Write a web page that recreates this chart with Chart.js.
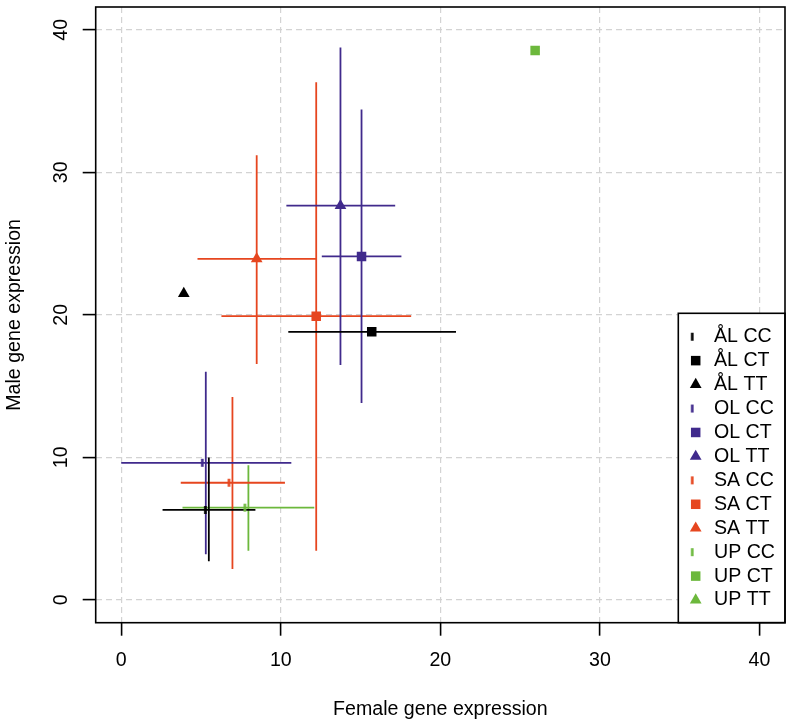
<!DOCTYPE html>
<html>
<head>
<meta charset="utf-8">
<script src="https://cdn.jsdelivr.net/npm/chart.js@4.4.0/dist/chart.umd.min.js"></script>
<style>
  html, body { margin: 0; padding: 0; background: #fff; }
  #wrap { width: 792px; height: 724px; }
</style>
</head>
<body>
<div id="wrap"><canvas id="c" width="792" height="724"></canvas></div>
<script>
const populations = ['ÅL', 'OL', 'SA', 'UP'];
const genotypes = ['CC', 'CT', 'TT'];
const popColors = ['#000000', '#402a8c', '#e6461f', '#6cb83c'];
const tickValues = [0, 10, 20, 30, 40];

// rows = population, columns = CC, CT, TT (null = not drawn)
const femaleMean = [[5.49, 15.70, 3.92], [5.30, 15.06, 13.74], [6.97, 12.22, 8.49], [7.97, 25.94, null]];
const maleMean   = [[6.31, 18.81, 21.49], [9.62, 24.10, 27.66], [8.22, 19.91, 23.93], [6.47, 38.55, null]];
const femaleLow  = [[2.59, 10.47, null], [0.00, 12.57, 10.35], [3.73, 6.28, 4.78], [3.84, null, null]];
const femaleHigh = [[8.41, 20.98, null], [10.66, 17.56, 17.17], [10.26, 18.17, 12.22], [12.10, null, null]];
const maleLow    = [[2.72, null, null], [3.21, 13.81, 16.48], [2.17, 3.44, 16.55], [3.44, null, null]];
const maleHigh   = [[9.99, null, null], [16.01, 34.41, 38.76], [14.23, 36.32, 31.20], [9.45, null, null]];

const FAMILY = '"Liberation Sans", Arial, Helvetica, sans-serif';
const FSIZE = 19.6;

// "|" glyph, sits a bit left of the point like R's pch="|"
function tickGlyph(color) {
  const c = document.createElement('canvas');
  c.width = 14; c.height = 14;
  const g = c.getContext('2d');
  g.fillStyle = color;
  g.fillRect(2.2, 3, 2.6, 8);
  return c;
}

function drawSymbol(ctx, j, color, x, y) {
  ctx.fillStyle = color;
  if (j === 0) {
    ctx.drawImage(tickGlyph(color), x - 7, y - 7);
  } else if (j === 1) {
    ctx.fillRect(x - 4.75, y - 4.75, 9.5, 9.5);
  } else {
    const r = 6.75;
    ctx.beginPath();
    ctx.moveTo(x, y - r);
    ctx.lineTo(x + r * 0.866, y + r / 2);
    ctx.lineTo(x - r * 0.866, y + r / 2);
    ctx.closePath();
    ctx.fill();
  }
}

const markerSets = [];
populations.forEach((p, i) => genotypes.forEach((gt, j) => {
  if (femaleMean[i][j] == null) return;
  markerSets.push({
    label: p + ' ' + gt,
    data: [{ x: femaleMean[i][j], y: maleMean[i][j] }],
    pointStyle: j === 0 ? tickGlyph(popColors[i]) : (j === 1 ? 'rect' : 'triangle'),
    pointRadius: j === 0 ? 7 : (j === 1 ? 6.72 : 6.75),
    pointBackgroundColor: popColors[i],
    pointBorderColor: popColors[i],
    pointBorderWidth: 0,
    showLine: false,
    order: 0
  });
}));

const barSets = populations.map((p, i) => {
  const pts = [];
  genotypes.forEach((gt, j) => {
    if (femaleLow[i][j] != null) {
      pts.push({ x: femaleLow[i][j], y: maleMean[i][j] }, { x: femaleHigh[i][j], y: maleMean[i][j] }, { x: null, y: null });
    }
    if (maleLow[i][j] != null) {
      pts.push({ x: femaleMean[i][j], y: maleLow[i][j] }, { x: femaleMean[i][j], y: maleHigh[i][j] }, { x: null, y: null });
    }
  });
  return {
    label: p + ' bars', data: pts, showLine: true, spanGaps: false,
    borderColor: popColors[i], borderWidth: 1.8, pointRadius: 0, order: 1
  };
});

const framePlugin = {
  id: 'frame',
  afterDatasetsDraw(chart) {
    const { ctx, chartArea: a, scales } = chart;
    ctx.save();
    ctx.fillStyle = '#000';
    ctx.font = FSIZE + 'px ' + FAMILY;
    ctx.textAlign = 'center';
    ctx.textBaseline = 'middle';
    tickValues.forEach(v => {
      ctx.fillText(String(v), scales.x.getPixelForValue(v), a.bottom + 37.7);
      ctx.save();
      ctx.translate(a.left - 34.3, scales.y.getPixelForValue(v));
      ctx.rotate(-Math.PI / 2);
      ctx.fillText(String(v), 0, 0);
      ctx.restore();
    });

    // legend, bottom right
    const bw = 106.7, bh = 309.4;
    const bx = a.right - bw, by = a.bottom - bh;
    ctx.fillStyle = '#fff';
    ctx.fillRect(bx, by, bw, bh);
    ctx.lineWidth = 1.6;
    ctx.strokeStyle = '#000';
    ctx.strokeRect(bx, by, bw, bh);
    ctx.textAlign = 'left';
    let row = 0;
    populations.forEach((p, i) => genotypes.forEach((gt, j) => {
      const ry = by + 23.4 + row * 23.94;
      drawSymbol(ctx, j, popColors[i], bx + 17.4, ry);
      ctx.fillStyle = '#000';
      ctx.fillText(p + ' ' + gt, bx + 35.7, ry);
      row++;
    }));

    ctx.lineWidth = 1.6;
    ctx.strokeStyle = '#000';
    ctx.strokeRect(a.left, a.top, a.right - a.left, a.bottom - a.top);
    ctx.restore();
  }
};

const axisGrid = {
  color: '#d3d3d3', lineWidth: 1.2,
  drawTicks: true, tickLength: 13, tickColor: '#000', tickWidth: 1.6, tickBorderDash: []
};

new Chart(document.getElementById('c'), {
  type: 'scatter',
  data: { datasets: [...markerSets, ...barSets] },
  options: {
    responsive: false,
    animation: false,
    events: [],
    layout: { padding: { top: 5, right: 6, left: 0, bottom: 0 } },
    plugins: { legend: { display: false }, tooltip: { enabled: false } },
    scales: {
      x: {
        type: 'linear', min: -1.6, max: 41.6,
        afterBuildTicks: s => { s.ticks = tickValues.map(v => ({ value: v })); },
        afterFit: s => { s.height = 101.3; },
        ticks: { display: false },
        grid: axisGrid,
        border: { display: false, dash: [6, 4] },
        title: {
          display: true, text: 'Female gene expression', color: '#000',
          font: { family: FAMILY, size: FSIZE, lineHeight: 1.2 },
          padding: { top: 0, bottom: 2.4 }
        }
      },
      y: {
        type: 'linear', min: -1.6, max: 41.6,
        afterBuildTicks: s => { s.ticks = tickValues.map(v => ({ value: v })); },
        afterFit: s => { s.width = 95.7; },
        ticks: { display: false },
        grid: axisGrid,
        border: { display: false, dash: [6, 4] },
        title: {
          display: true, text: 'Male gene expression', color: '#000',
          font: { family: FAMILY, size: FSIZE, lineHeight: 1.2 },
          padding: { top: 3.0, bottom: 0 }
        }
      }
    }
  },
  plugins: [framePlugin]
});
</script>
</body>
</html>
